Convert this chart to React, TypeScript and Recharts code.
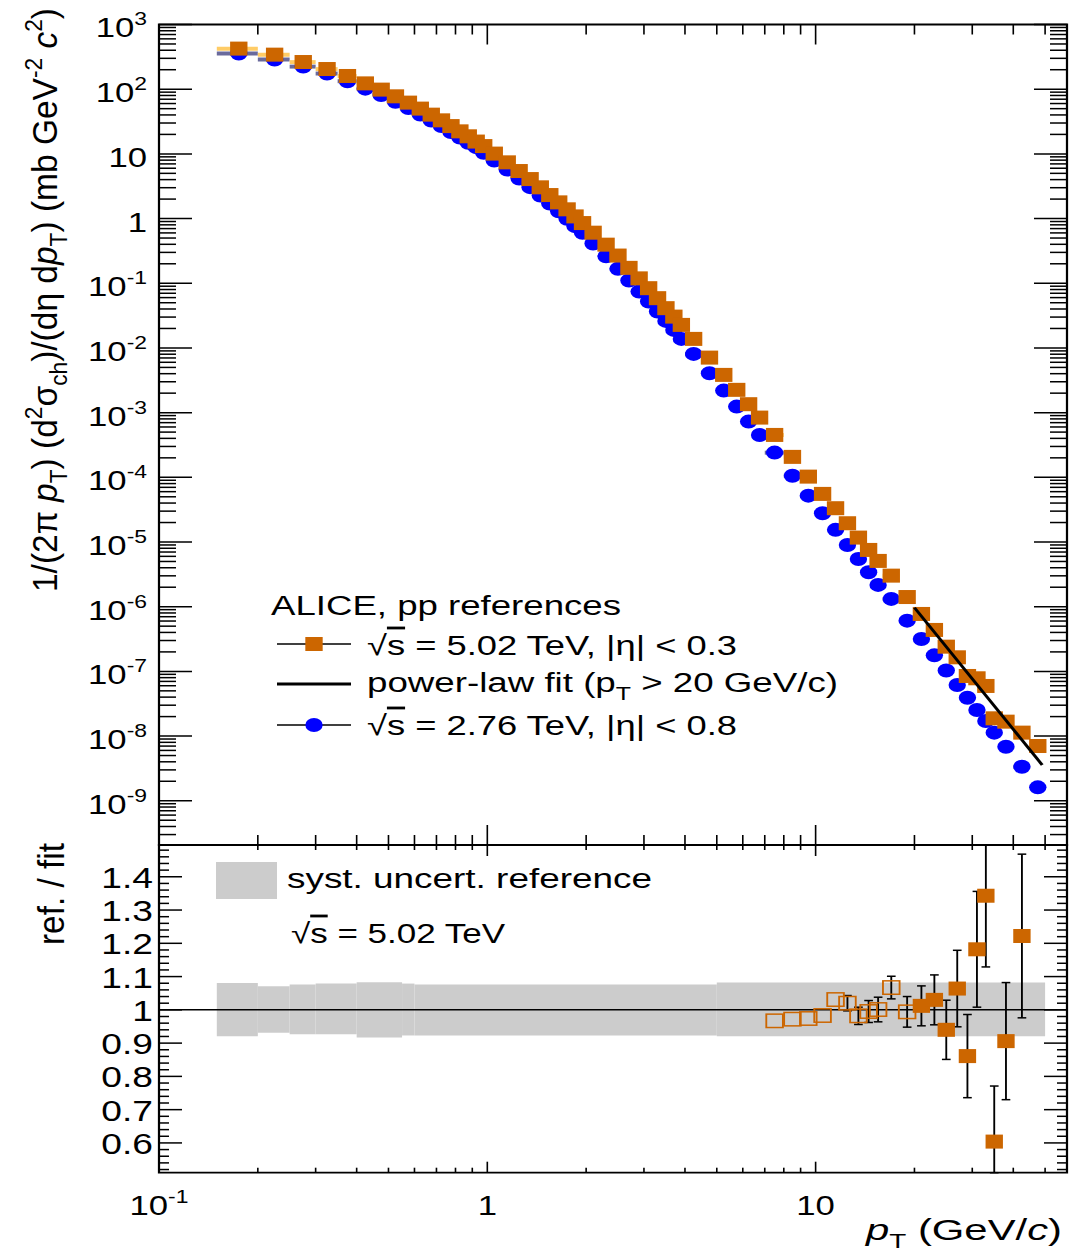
import React from 'react';
import { ComposedChart, Scatter, XAxis, YAxis, ReferenceArea, ReferenceLine, ErrorBar } from 'recharts';

// ---------------- data ----------------
const binEdges = [0.15, 0.2, 0.25, 0.3, 0.35, 0.4, 0.45, 0.5, 0.55, 0.6, 0.65, 0.7, 0.75, 0.8, 0.85, 0.9, 0.95, 1.0,
  1.1, 1.2, 1.3, 1.4, 1.5, 1.6, 1.7, 1.8, 1.9, 2.0, 2.2, 2.4, 2.6, 2.8, 3.0, 3.2, 3.4, 3.6, 3.8, 4.0,
  4.5, 5.0, 5.5, 6.0, 6.5, 7.0, 8, 9, 10, 11, 12, 13, 14, 15, 16, 18, 20, 22, 24, 26, 28, 30, 32, 34, 36, 40, 45, 50];

const ptCenters = [0.175, 0.225, 0.275, 0.325, 0.375, 0.425, 0.475, 0.525, 0.575, 0.625, 0.675, 0.725, 0.775, 0.825, 0.875, 0.925, 0.975,
  1.05, 1.15, 1.25, 1.35, 1.45, 1.55, 1.65, 1.75, 1.85, 1.95,
  2.1, 2.3, 2.5, 2.7, 2.9, 3.1, 3.3, 3.5, 3.7, 3.9,
  4.25, 4.75, 5.25, 5.75, 6.25, 6.75,
  7.5, 8.5, 9.5, 10.5, 11.5, 12.5, 13.5, 14.5, 15.5,
  17, 19,
  21, 23, 25, 27, 29, 31, 33, 35,
  38, 42.5, 47.5];

// sqrt(s) = 5.02 TeV reference (orange squares)
const spec502 = [424, 342, 263, 205, 160, 123, 98.5, 77.6, 62.0, 50.1, 40.4, 33.0, 26.9, 22.3, 18.7, 15.5, 13.2,
  10.1, 7.40, 5.43, 4.08, 3.04, 2.31, 1.78, 1.39, 1.08, 0.852,
  0.605, 0.395, 0.268, 0.173, 0.119, 0.0839, 0.0588, 0.0412, 0.0305, 0.0227,
  0.0138, 0.00709, 0.00383, 0.00225, 0.00135, 8.38e-4,
  4.52e-4, 2.07e-4, 1.025e-4, 5.54e-5, 3.33e-5, 1.95e-5, 1.17e-5, 7.54e-6, 5.10e-6,
  3.02e-6, 1.41e-6,
  7.72e-7, 4.37e-7, 2.41e-7, 1.65e-7, 8.49e-8, 7.82e-8, 5.95e-8, 1.88e-8,
  1.67e-8, 1.13e-8, 7.02e-9];

// sqrt(s) = 2.76 TeV measurement (blue circles)
const spec276 = [356, 288, 224, 175, 133, 102, 81.0, 63.8, 51.0, 40.6, 32.8, 26.9, 21.7, 17.9, 14.8, 12.7, 10.4,
  7.89, 5.73, 4.16, 3.06, 2.27, 1.71, 1.30, 0.990, 0.763, 0.601,
  0.411, 0.262, 0.167, 0.110, 0.0743, 0.0521, 0.0365, 0.0262, 0.0190, 0.0138,
  0.00809, 0.00407, 0.00219, 0.00124, 7.26e-4, 4.52e-4,
  2.41e-4, 1.06e-4, 5.21e-5, 2.78e-5, 1.54e-5, 9.01e-6, 5.47e-6, 3.41e-6, 2.17e-6,
  1.32e-6, 6.08e-7,
  3.17e-7, 1.77e-7, 1.03e-7, 6.16e-8, 3.92e-8, 2.53e-8, 1.71e-8, 1.13e-8,
  6.85e-9, 3.36e-9, 1.61e-9];

const sysRel502 = 0.07;
const sysRel276 = 0.07;

// power-law fit (pT > 20 GeV/c), end points
const fitPt = [20, 49];
const fitVal = [9.66e-7, 3.57e-9];

// ratio panel: interpolated reference (open squares)
const ratioInterpPt = [7.5, 8.5, 9.5, 10.5, 11.5, 12.5, 13.5, 14.5, 15.5, 17, 19];
const ratioInterp = [0.967, 0.972, 0.974, 0.983, 1.031, 1.020, 0.982, 0.995, 1.001, 1.067, 0.994];
const ratioInterpErr = [null, null, null, null, null, 0.023, 0.026, 0.033, 0.037, 0.034, 0.046];

// ratio panel: measured points pT > 20 (filled squares), visible error extent
const ratioPt = [21, 23, 25, 27, 29, 31, 33, 35, 38, 42.5];
const ratioVal = [1.012, 1.030, 0.940, 1.064, 0.861, 1.182, 1.343, 0.604, 0.906, 1.222];
const ratioErrLow = [0.060, 0.075, 0.089, 0.115, 0.125, 0.174, 0.214, 0.0935, 0.176, 0.246];
const ratioErrHigh = [0.060, 0.075, 0.089, 0.115, 0.125, 0.174, 0.152, 0.167, 0.176, 0.246];

// systematic uncertainty band of reference
const bandEdges = [0.15, 0.2, 0.25, 0.3, 0.4, 0.55, 0.6, 5.0, 50];
const bandHigh = [1.081, 1.071, 1.076, 1.079, 1.083, 1.079, 1.076, 1.082];
const bandLow = [0.921, 0.931, 0.927, 0.927, 0.917, 0.923, 0.923, 0.921];

// ticks
const xMajorTicks = [0.1, 1, 10];
const xMajorBase = ['10', '1', '10'];
const xMajorExp = ['-1', '', ''];
const xMinorTicks = [0.2, 0.3, 0.4, 0.5, 0.6, 0.7, 0.8, 0.9, 2, 3, 4, 5, 6, 7, 8, 9, 20, 30, 40, 50];

const yMajorTicks = [1e3, 1e2, 1e1, 1, 1e-1, 1e-2, 1e-3, 1e-4, 1e-5, 1e-6, 1e-7, 1e-8, 1e-9];
const yMajorBase = ['10', '10', '10', '1', '10', '10', '10', '10', '10', '10', '10', '10', '10'];
const yMajorExp = ['3', '2', '', '', '-1', '-2', '-3', '-4', '-5', '-6', '-7', '-8', '-9'];

const rMajorTicks = [0.6, 0.7, 0.8, 0.9, 1, 1.1, 1.2, 1.3, 1.4];
const rMajorLabels = ['0.6', '0.7', '0.8', '0.9', '1', '1.1', '1.2', '1.3', '1.4'];

// ---------------- layout / style ----------------
const S = 1.24; // horizontal stretch of the picture
const W = 1069 / S;
const PLOT_LEFT = 159 / S;
const PLOT_RIGHT = 1067 / S;
const TOP_PLOT_TOP = 24.5;
const BOT_SVG_TOP = 820;
const BOT_PLOT_TOP = 25; // in bottom svg coords
const X_DOMAIN: [number, number] = [0.1, 58.3];
const Y_DOMAIN: [number, number] = [2.07e-10, 1000];
const R_DOMAIN: [number, number] = [0.5105, 1.4955];
const FONT = '"Liberation Sans", Arial, Helvetica, sans-serif';
const ORANGE = '#cc6600';
const BLUE = '#0000ff';

const yMinorTicks: number[] = [];
for (let k = -10; k <= 2; k++) {
  for (let m = 2; m <= 9; m++) {
    const v = m * Math.pow(10, k);
    if (v >= Y_DOMAIN[0] && v <= Y_DOMAIN[1]) yMinorTicks.push(v);
  }
}
const rMinorTicks: number[] = [];
for (let i = 26; i <= 74; i++) if (i % 5 !== 0) rMinorTicks.push(i / 50);

const PowText = ({ x, y, base, exp, anchor, size }: any) => (
  <text x={x} y={y} textAnchor={anchor} fontSize={size} fontFamily={FONT} fill="#000">
    {base}
    {exp ? <tspan dy={-12} fontSize={size * 0.66}>{exp}</tspan> : null}
  </text>
);

const TopXTick = (props: any) => {
  const { x, y, payload } = props;
  const major = xMajorTicks.indexOf(payload.value) >= 0;
  const len = major ? 20 : 10;
  return (
    <g>
      <line x1={x} x2={x} y1={y} y2={y - len} stroke="#000" strokeWidth={1.3} />
      <line x1={x} x2={x} y1={TOP_PLOT_TOP} y2={TOP_PLOT_TOP + len} stroke="#000" strokeWidth={1.3} />
    </g>
  );
};

const TopYTick = (props: any) => {
  const { x, y, payload } = props;
  const idx = yMajorTicks.indexOf(payload.value);
  const len = (idx >= 0 ? 33 : 17) / S;
  return (
    <g>
      <line x1={x} x2={x + len} y1={y} y2={y} stroke="#000" strokeWidth={1.5} />
      <line x1={PLOT_RIGHT} x2={PLOT_RIGHT - len} y1={y} y2={y} stroke="#000" strokeWidth={1.5} />
      {idx >= 0 ? <PowText x={x - 12 / S} y={y + 13} base={yMajorBase[idx]} exp={yMajorExp[idx]} anchor="end" size={28} /> : null}
    </g>
  );
};

const BotXTick = (props: any) => {
  const { x, y, payload } = props;
  const idx = xMajorTicks.indexOf(payload.value);
  const len = idx >= 0 ? 11 : 5;
  return (
    <g>
      <line x1={x} x2={x} y1={y} y2={y - len} stroke="#000" strokeWidth={1.3} />
      <line x1={x} x2={x} y1={BOT_PLOT_TOP} y2={BOT_PLOT_TOP + len} stroke="#000" strokeWidth={1.3} />
      {idx >= 0 ? <PowText x={x} y={y + 42} base={xMajorBase[idx]} exp={xMajorExp[idx]} anchor="middle" size={28} /> : null}
    </g>
  );
};

const BotYTick = (props: any) => {
  const { x, y, payload } = props;
  const idx = rMajorTicks.indexOf(payload.value);
  const len = (idx >= 0 ? 23 : 10) / S;
  return (
    <g>
      <line x1={x} x2={x + len} y1={y} y2={y} stroke="#000" strokeWidth={1.5} />
      <line x1={PLOT_RIGHT} x2={PLOT_RIGHT - len} y1={y} y2={y} stroke="#000" strokeWidth={1.5} />
      {idx >= 0 ? (
        <text x={x - 6 / S} y={y + 11} textAnchor="end" fontSize={30} fontFamily={FONT} fill="#000">{rMajorLabels[idx]}</text>
      ) : null}
    </g>
  );
};

const BlueDot = (p: any) => <ellipse cx={p.cx} cy={p.cy} rx={7} ry={7} fill={BLUE} />;
const OrangeSq = (p: any) => <rect x={p.cx - 7} y={p.cy - 7} width={14} height={14} fill={ORANGE} />;
const OpenSq = (p: any) => <rect x={p.cx - 6.7} y={p.cy - 6.7} width={13.4} height={13.4} fill="none" stroke={ORANGE} strokeWidth={1.5} />;
const NoDot = () => <g />;

const Sqrt = () => (
  <>
    {'√'}
    <tspan style={{ textDecoration: 'overline' }}>s</tspan>
  </>
);

export default function App() {
  const d502 = ptCenters.map((x, i) => ({ x, y: spec502[i] }));
  const d276 = ptCenters.map((x, i) => ({ x, y: spec276[i] }));
  const dFit = fitPt.map((x, i) => ({ x, y: fitVal[i] }));
  const dInterp = ratioInterpPt.map((x, i) => ({ x, y: ratioInterp[i], err: ratioInterpErr[i] }));
  const dRatio = ratioPt.map((x, i) => ({ x, y: ratioVal[i], err: [ratioErrLow[i], ratioErrHigh[i]] }));

  const xTicks = [...xMajorTicks, ...xMinorTicks];
  const yTicks = [...yMajorTicks, ...yMinorTicks];
  const rTicks = [...rMajorTicks, ...rMinorTicks];

  return (
    <div style={{ position: 'absolute', left: 0, top: 0, width: 1069, height: 1253, background: '#fff', overflow: 'hidden', fontFamily: FONT }}>
      <div style={{ position: 'absolute', left: 0, top: 0, width: W, height: 1253, transform: `scaleX(${S})`, transformOrigin: '0 0' }}>
        {/* top panel */}
        <div style={{ position: 'absolute', left: 0, top: 0 }}>
          <ComposedChart width={W} height={848} margin={{ top: TOP_PLOT_TOP, right: W - PLOT_RIGHT, bottom: 2, left: 0 }}>
            <XAxis xAxisId="x" type="number" dataKey="x" scale="log" domain={X_DOMAIN} allowDataOverflow ticks={xTicks} interval={0}
              tickSize={0} tickMargin={0} axisLine={false} tickLine={false} height={1} tick={(p: any) => <TopXTick {...p} />} />
            <YAxis yAxisId="y" type="number" dataKey="y" scale="log" domain={Y_DOMAIN} allowDataOverflow ticks={yTicks} interval={0}
              tickSize={0} tickMargin={0} axisLine={false} tickLine={false} width={PLOT_LEFT} tick={(p: any) => <TopYTick {...p} />} />
            {ptCenters.map((c, i) => (
              <ReferenceArea key={'b' + i} xAxisId="x" yAxisId="y" x1={binEdges[i]} x2={binEdges[i + 1]}
                y1={spec276[i] * (1 - sysRel276)} y2={spec276[i] * (1 + sysRel276)} fill="#6a6a9c" fillOpacity={1} stroke="none" ifOverflow="visible" />
            ))}
            {ptCenters.map((c, i) => (
              <ReferenceArea key={'o' + i} xAxisId="x" yAxisId="y" x1={binEdges[i]} x2={binEdges[i + 1]}
                y1={spec502[i] * (1 - sysRel502)} y2={spec502[i] * (1 + sysRel502)} fill="#ffcc66" fillOpacity={1} stroke="none" ifOverflow="visible" />
            ))}
            <Scatter xAxisId="x" yAxisId="y" data={d276} shape={BlueDot} isAnimationActive={false} />
            <Scatter xAxisId="x" yAxisId="y" data={d502} shape={OrangeSq} isAnimationActive={false} />
            <Scatter xAxisId="x" yAxisId="y" data={dFit} shape={NoDot} line={{ stroke: '#000', strokeWidth: 2.6 }} isAnimationActive={false} />
            <ReferenceArea xAxisId="x" yAxisId="y" x1={X_DOMAIN[0]} x2={X_DOMAIN[1]} y1={Y_DOMAIN[0]} y2={Y_DOMAIN[1]}
              fill="none" fillOpacity={0} stroke="#000" strokeWidth={1.8} ifOverflow="visible" />
          </ComposedChart>
        </div>

        {/* bottom panel */}
        <div style={{ position: 'absolute', left: 0, top: BOT_SVG_TOP }}>
          <ComposedChart width={W} height={433} margin={{ top: BOT_PLOT_TOP, right: W - PLOT_RIGHT, bottom: 20.3, left: 0 }}>
            <XAxis xAxisId="x" type="number" dataKey="x" scale="log" domain={X_DOMAIN} allowDataOverflow ticks={xTicks} interval={0}
              tickSize={0} tickMargin={0} axisLine={false} tickLine={false} height={60} tick={(p: any) => <BotXTick {...p} />} />
            <YAxis yAxisId="y" type="number" dataKey="y" domain={R_DOMAIN} allowDataOverflow ticks={rTicks} interval={0}
              tickSize={0} tickMargin={0} axisLine={false} tickLine={false} width={PLOT_LEFT} tick={(p: any) => <BotYTick {...p} />} />
            {bandHigh.map((h, i) => (
              <ReferenceArea key={'band' + i} xAxisId="x" yAxisId="y" x1={bandEdges[i]} x2={bandEdges[i + 1]} y1={bandLow[i]} y2={h}
                fill="#cccccc" fillOpacity={1} stroke="none" ifOverflow="visible" />
            ))}
            <ReferenceLine xAxisId="x" yAxisId="y" y={1} stroke="#000" strokeWidth={1.5} />
            <Scatter xAxisId="x" yAxisId="y" data={dInterp} shape={OpenSq} isAnimationActive={false}>
              <ErrorBar dataKey="err" direction="y" width={3.5} stroke="#000" strokeWidth={1.5} />
            </Scatter>
            <Scatter xAxisId="x" yAxisId="y" data={dRatio} shape={OrangeSq} isAnimationActive={false}>
              <ErrorBar dataKey="err" direction="y" width={3.5} stroke="#000" strokeWidth={1.5} />
            </Scatter>
            <ReferenceArea xAxisId="x" yAxisId="y" x1={X_DOMAIN[0]} x2={X_DOMAIN[1]} y1={R_DOMAIN[0]} y2={R_DOMAIN[1]}
              fill="none" fillOpacity={0} stroke="#000" strokeWidth={1.8} ifOverflow="visible" />
          </ComposedChart>
        </div>

        {/* texts and legends */}
        <svg width={W} height={1253} style={{ position: 'absolute', left: 0, top: 0, pointerEvents: 'none' }} fontFamily={FONT}>
          {/* y title top */}
          <text transform={`translate(${57 / S}, 592) rotate(-90)`} fontSize={28} textLength={584} lengthAdjust="spacingAndGlyphs" fill="#000">
            1/(2π <tspan fontStyle="italic">p</tspan><tspan dy={8} fontSize={19}>T</tspan><tspan dy={-8}>) (d</tspan>
            <tspan dy={-12} fontSize={19}>2</tspan><tspan dy={12}>σ</tspan><tspan dy={8} fontSize={19}>ch</tspan>
            <tspan dy={-8}>)/(dη d</tspan><tspan fontStyle="italic">p</tspan><tspan dy={8} fontSize={19}>T</tspan>
            <tspan dy={-8}>) (mb GeV</tspan><tspan dy={-12} fontSize={19}>-2</tspan><tspan dy={12}> </tspan>
            <tspan fontStyle="italic">c</tspan><tspan dy={-12} fontSize={19}>2</tspan><tspan dy={12}>)</tspan>
          </text>
          {/* y title bottom */}
          <text transform={`translate(${64 / S}, 945) rotate(-90)`} fontSize={30} textLength={102} lengthAdjust="spacingAndGlyphs" fill="#000">
            ref. / fit
          </text>
          {/* x title */}
          <text x={866 / S} y={1240} fontSize={30} textLength={196 / S} lengthAdjust="spacingAndGlyphs" fill="#000">
            <tspan fontStyle="italic">p</tspan><tspan dy={8} fontSize={20}>T</tspan><tspan dy={-8}> (GeV/</tspan>
            <tspan fontStyle="italic">c</tspan><tspan>)</tspan>
          </text>

          {/* top legend */}
          <text x={271 / S} y={615} fontSize={28} textLength={350 / S} lengthAdjust="spacingAndGlyphs" fill="#000">ALICE, pp references</text>
          <line x1={277 / S} x2={351 / S} y1={644} y2={644} stroke="#000" strokeWidth={1.5} />
          <rect x={314 / S - 7} y={644 - 7} width={14} height={14} fill={ORANGE} />
          <text x={367 / S} y={655} fontSize={28} textLength={370 / S} lengthAdjust="spacingAndGlyphs" fill="#000">
            <Sqrt /> = 5.02 TeV, |η|  &lt;  0.3
          </text>
          <line x1={277 / S} x2={351 / S} y1={684} y2={684} stroke="#000" strokeWidth={3} />
          <text x={367 / S} y={692} fontSize={28} textLength={471 / S} lengthAdjust="spacingAndGlyphs" fill="#000">
            power-law fit (p<tspan dy={8} fontSize={19}>T</tspan><tspan dy={-8}> &gt; 20 GeV/c)</tspan>
          </text>
          <line x1={277 / S} x2={351 / S} y1={725} y2={725} stroke="#000" strokeWidth={1.5} />
          <ellipse cx={314 / S} cy={725} rx={7} ry={7} fill={BLUE} />
          <text x={367 / S} y={735} fontSize={28} textLength={370 / S} lengthAdjust="spacingAndGlyphs" fill="#000">
            <Sqrt /> = 2.76 TeV, |η|  &lt;  0.8
          </text>

          {/* bottom legend */}
          <rect x={216 / S} y={862} width={61 / S} height={37} fill="#cccccc" />
          <text x={287 / S} y={888} fontSize={28} textLength={365 / S} lengthAdjust="spacingAndGlyphs" fill="#000">syst. uncert. reference</text>
          <text x={291 / S} y={943} fontSize={28} textLength={214 / S} lengthAdjust="spacingAndGlyphs" fill="#000">
            <Sqrt /> = 5.02 TeV
          </text>
        </svg>
      </div>
    </div>
  );
}
